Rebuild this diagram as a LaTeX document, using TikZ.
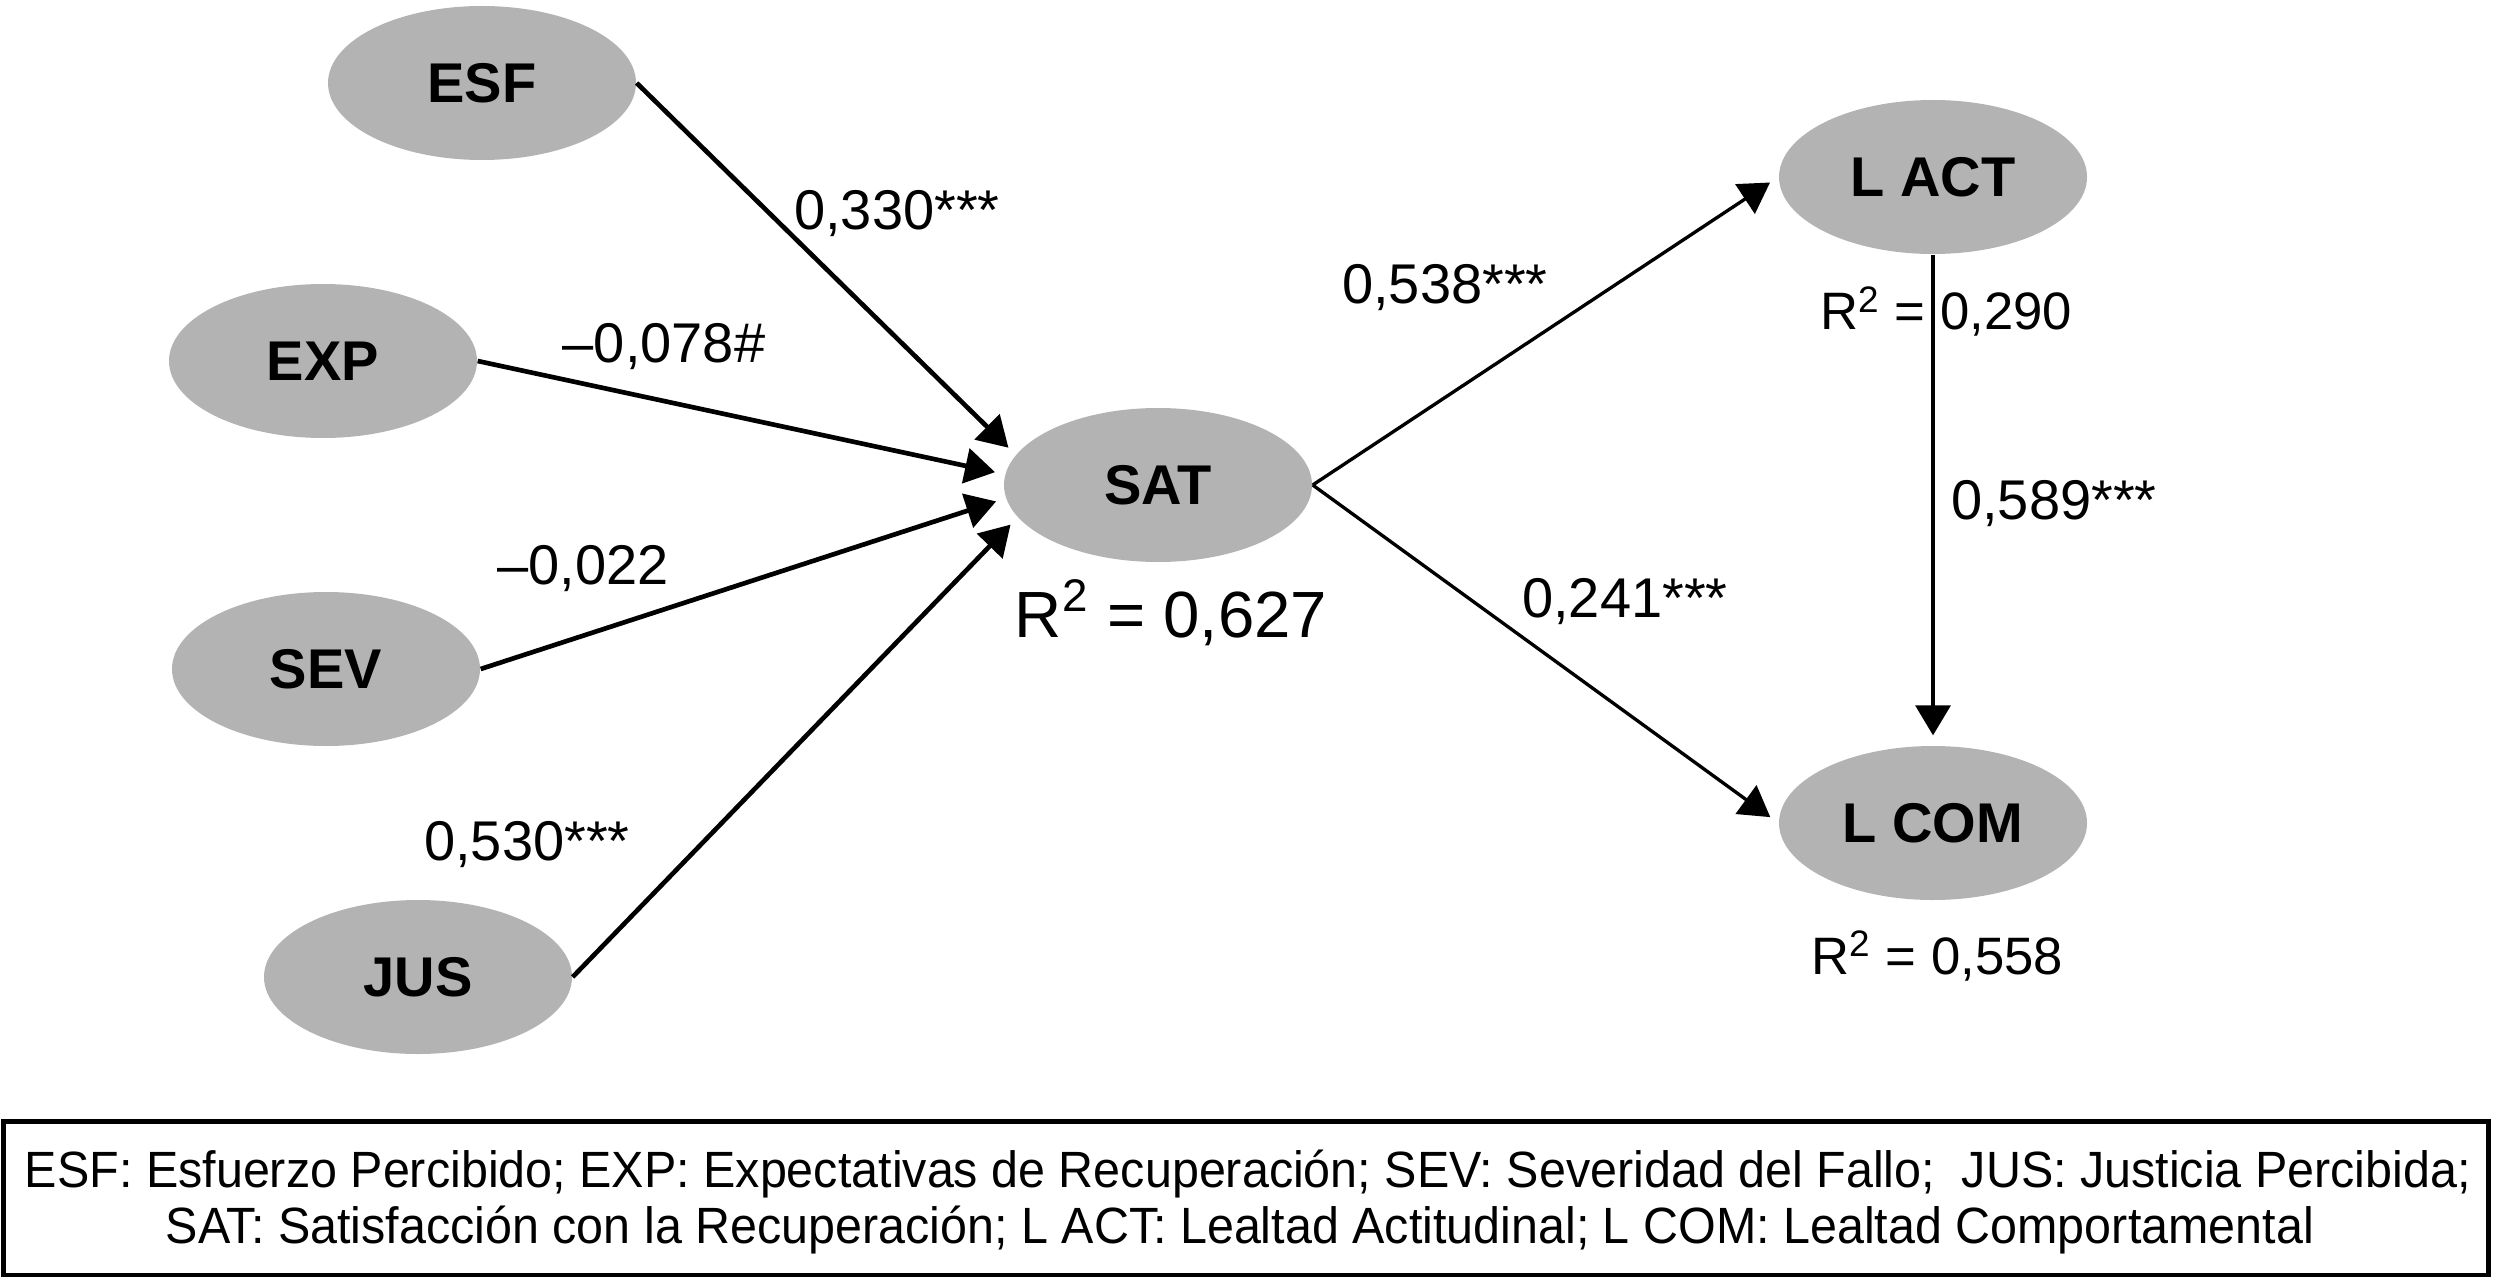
\documentclass[tikz,border=0pt]{standalone}
\usepackage{fontspec}
\setmainfont{Liberation Sans}
\newfontfamily\legfont[FakeStretch=0.95]{Liberation Sans}
\usetikzlibrary{shapes.geometric,arrows.meta}
\definecolor{ovalgray}{RGB}{179,179,179}
\begin{document}
\begin{tikzpicture}[x=0.3pt,y=-0.3pt,
  latent/.style={ellipse, fill=ovalgray, minimum width=92.4pt, minimum height=46.2pt, inner sep=0pt, font=\fontsize{16.8}{20}\selectfont\bfseries},
  coef/.style={anchor=base, inner sep=0pt, font=\fontsize{16.8}{20}\selectfont},
  rsq/.style={anchor=base, inner sep=0pt, font=\fontsize{15.8}{18}\selectfont},
  bigcoef/.style={anchor=base, inner sep=0pt, font=\fontsize{19.6}{23}\selectfont},
  legtext/.style={anchor=base, inner sep=0pt, font=\legfont\fontsize{15.3}{18}\selectfont},
  lnkL/.style={-{Triangle[length=9pt,width=10.5pt]}, line width=1.4pt, shorten >=3pt},
  lnkR/.style={-{Triangle[length=9pt,width=10.5pt]}, line width=1pt, shorten >=3pt},
]
\useasboundingbox (0,0) rectangle (2493,1278);

% latent variables
\node[latent] (ESF)  at (482,83)   {ESF};
\node[latent] (EXP)  at (323,361)  {EXP};
\node[latent] (SEV)  at (326,669)  {SEV};
\node[latent] (JUS)  at (418,977)  {JUS};
\node[latent] (SAT)  at (1158,485) {SAT};
\node[latent] (LACT) at (1933,177) {L ACT};
\node[latent] (LCOM) at (1933,823) {L COM};

% paths
\draw[lnkL] (ESF.east) -- (SAT.168);
\draw[lnkL] (EXP.east) -- (SAT.176);
\draw[lnkL] (SEV.east) -- (SAT.185);
\draw[lnkL] (JUS.east) -- (SAT.193);
\draw[lnkR] (SAT.east) -- (LACT.west);
\draw[lnkR] (SAT.east) -- (LCOM.west);
\draw[lnkR] (LACT.south) -- (LCOM.north);

% coefficients
\node[coef] (c1) at (897,230)  {0,330***};
\node[coef] (c2) at (664,362)  {–0,078\#};
\node[coef] (c3) at (583,584)  {–0,022};
\node[coef] (c4) at (527,860)  {0,530***};
\node[coef] (c5) at (1445,304) {0,538***};
\node[coef] (c6) at (1625,617) {0,241***};
\node[coef] (c7) at (2054,519) {0,589***};

% R squared
\node[bigcoef] (r1) at (1171,637) {R\textsuperscript{2} = 0,627};
\node[rsq] (r2) at (1946,330) {R\textsuperscript{2} = 0,290};
\node[rsq] (r3) at (1937,974) {R\textsuperscript{2} = 0,558};

% legend
\node[draw, line width=1.3pt, inner sep=0pt, minimum width=745.5pt, minimum height=46pt] (legend) at (1246,1198) {};
\node[legtext] (leg1) at (1248,1187) {ESF: Esfuerzo Percibido; EXP: Expectativas de Recuperación; SEV: Severidad del Fallo;\ \ JUS: Justicia Percibida;};
\node[legtext] (leg2) at (1240,1243) {SAT: Satisfacción con la Recuperación; L ACT: Lealtad Actitudinal; L COM: Lealtad Comportamental};
\end{tikzpicture}
\end{document}
